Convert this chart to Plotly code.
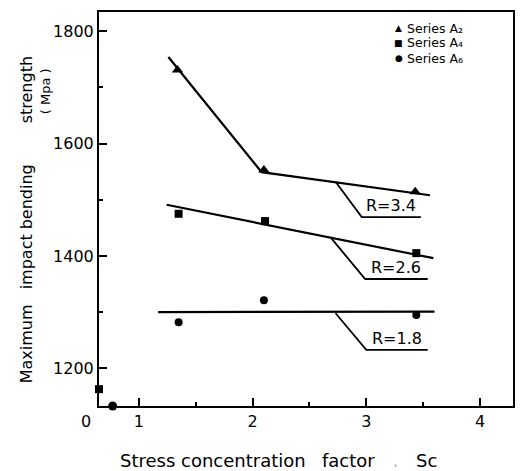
import plotly.graph_objects as go

# ---------------- data ----------------
series_names = ["Series A₂", "Series A₄", "Series A₆"]
a2_x = [1.34, 2.10, 3.43]
a2_y = [1731, 1553, 1514]
a4_x = [1.35, 2.11, 3.44]
a4_y = [1475, 1462, 1405]
a6_x = [1.35, 2.10, 3.44]
a6_y = [1282, 1321, 1295]

# stray points sitting on the axes near the origin
edge_sq_x = [0.65]
edge_sq_y = [1163]
edge_ci_x = [0.77]
edge_ci_y = [1133]

# fitted lines
fit_a2_x = [1.26, 2.08, 3.56]
fit_a2_y = [1754, 1549, 1508]
fit_a4_x = [1.245, 3.59]
fit_a4_y = [1491, 1396]
fit_a6_x = [1.17, 3.60]
fit_a6_y = [1300, 1301]

# radius labels with leader lines
r_labels = ["R=3.4", "R=2.6", "R=1.8"]
r_start_x = [2.73, 2.69, 2.73]
r_start_y = [1532, 1432, 1298]
r_knee_x = [2.96, 2.99, 3.00]
r_knee_y = [1469, 1359, 1233]
r_end_x = [3.48, 3.54, 3.54]

x_ticks = [1, 2, 3, 4]
y_ticks = [1200, 1400, 1600, 1800]

FONT = "DejaVu Sans"
W, H = 521, 471
L, R, T, B = 99, 6, 12, 65


def pxx(px):
    return (px - L) / (W - L - R)


def pxy(py):
    return (H - B - py) / (H - T - B)


fig = go.Figure()

line_style = dict(color="black", width=2.2)
for fx, fy in [(fit_a2_x, fit_a2_y), (fit_a4_x, fit_a4_y), (fit_a6_x, fit_a6_y)]:
    fig.add_trace(go.Scatter(x=fx, y=fy, mode="lines", line=line_style,
                             showlegend=False, hoverinfo="skip"))

for i in range(len(r_labels)):
    fig.add_trace(go.Scatter(
        x=[r_start_x[i], r_knee_x[i], r_end_x[i]],
        y=[r_start_y[i], r_knee_y[i], r_knee_y[i]],
        mode="lines", line=dict(color="black", width=1.8),
        showlegend=False, hoverinfo="skip"))
    fig.add_annotation(x=(r_knee_x[i] + r_end_x[i]) / 2, y=r_knee_y[i],
                       text=r_labels[i], showarrow=False, yanchor="bottom",
                       yshift=0, font=dict(family=FONT, size=16, color="black"))

fig.add_trace(go.Scatter(x=a2_x, y=a2_y, mode="markers", name=series_names[0],
                         marker=dict(symbol="triangle-up", size=10, color="black"),
                         showlegend=False))
fig.add_trace(go.Scatter(x=a4_x, y=a4_y, mode="markers", name=series_names[1],
                         marker=dict(symbol="square", size=8, color="black"),
                         showlegend=False))
fig.add_trace(go.Scatter(x=a6_x, y=a6_y, mode="markers", name=series_names[2],
                         marker=dict(symbol="circle", size=8, color="black"),
                         showlegend=False))
fig.add_trace(go.Scatter(x=edge_sq_x, y=edge_sq_y, mode="markers", cliponaxis=False,
                         marker=dict(symbol="square", size=8, color="black"),
                         showlegend=False))
fig.add_trace(go.Scatter(x=edge_ci_x, y=edge_ci_y, mode="markers", cliponaxis=False,
                         marker=dict(symbol="circle", size=9, color="black"),
                         showlegend=False))

# legend (drawn as text rows)
legend_symbols = ["▲", "■", "●"]
legend_rows = [28, 43, 58]
for sym, name, ry in zip(legend_symbols, series_names, legend_rows):
    fig.add_annotation(xref="paper", yref="paper", x=pxx(400), y=pxy(ry), text=sym,
                       showarrow=False, xanchor="center", yanchor="middle",
                       borderpad=0, font=dict(family=FONT, size=9, color="black"))
    fig.add_annotation(xref="paper", yref="paper", x=pxx(407), y=pxy(ry), text=name,
                       showarrow=False, xanchor="left", yanchor="middle",
                       borderpad=0, font=dict(family=FONT, size=12.5, color="black"))

# y-axis title pieces
for word, cy in [("Maximum", 344), ("impact", 262), ("bending", 197), ("strength", 90)]:
    fig.add_annotation(xref="paper", yref="paper", x=pxx(26), y=pxy(cy), text=word,
                       textangle=-90, showarrow=False, xanchor="center", yanchor="middle",
                       font=dict(family=FONT, size=16, color="black"))
fig.add_annotation(xref="paper", yref="paper", x=pxx(45), y=pxy(91), text="( Mpa )",
                   textangle=-90, showarrow=False, xanchor="center", yanchor="middle",
                   font=dict(family=FONT, size=13, color="black"))

# x-axis title pieces
for word, cx in [("Stress concentration", 214), ("factor", 350), ("Sc", 428)]:
    fig.add_annotation(xref="paper", yref="paper", x=pxx(cx), y=pxy(460), text=word,
                       showarrow=False, xanchor="center", yanchor="middle",
                       font=dict(family=FONT, size=18, color="black"))
fig.add_annotation(xref="paper", yref="paper", x=pxx(397), y=pxy(462), text=",",
                   showarrow=False, xanchor="center", yanchor="middle",
                   font=dict(family=FONT, size=10, color="#777"))

# origin "0" label
fig.add_annotation(xref="paper", yref="paper", x=pxx(86), y=pxy(421), text="0",
                   showarrow=False, xanchor="center", yanchor="middle",
                   font=dict(family=FONT, size=16, color="black"))

axis_common = dict(showgrid=False, zeroline=False, showline=True, mirror=True,
                   linecolor="black", linewidth=2, ticks="inside", ticklen=8,
                   tickwidth=2, tickcolor="black",
                   tickfont=dict(family=FONT, size=16, color="black"))

fig.update_xaxes(range=[0.65, 4.29], tickvals=x_ticks,
                 minor=dict(ticks="inside", ticklen=4, tickwidth=1.5, dtick=0.5,
                            tick0=0, tickcolor="black"),
                 **axis_common)
fig.update_yaxes(range=[1133, 1834], tickvals=y_ticks,
                 minor=dict(ticks="inside", ticklen=4, tickwidth=1.5, dtick=100,
                            tick0=1100, tickcolor="black"),
                 **axis_common)

fig.update_layout(width=W, height=H, margin=dict(l=L, r=R, t=T, b=B),
                  paper_bgcolor="white", plot_bgcolor="white",
                  font=dict(family=FONT, color="black"), showlegend=False)

fig.write_html("out.html")
